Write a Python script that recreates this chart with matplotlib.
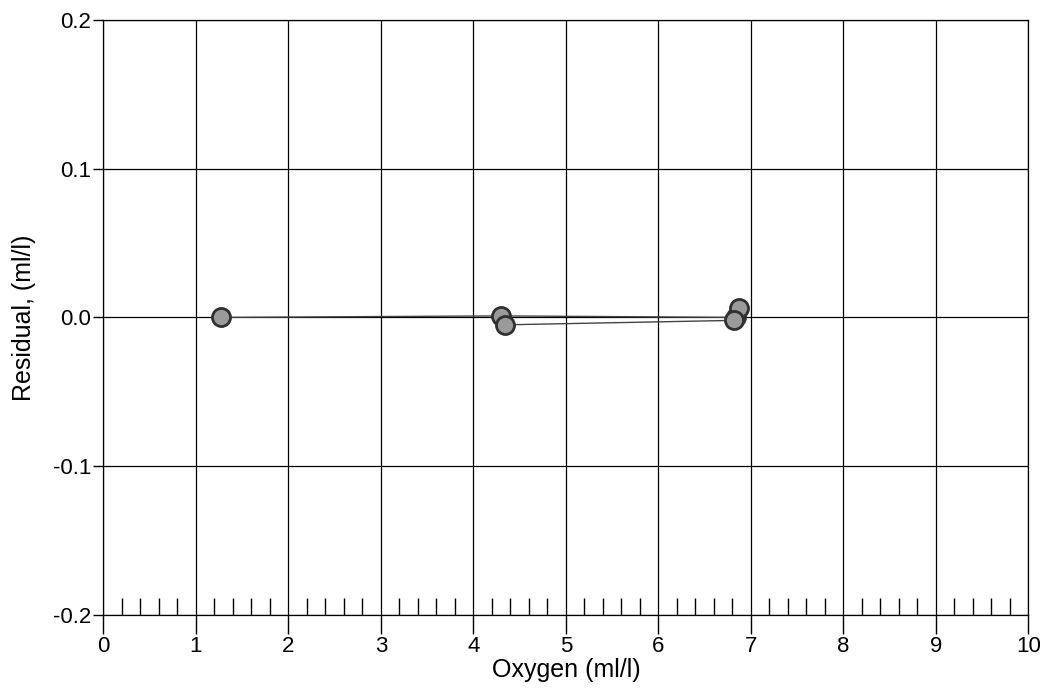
import matplotlib
matplotlib.use('Agg')
import matplotlib.pyplot as plt
from matplotlib.ticker import MultipleLocator, FormatStrFormatter

plt.rcParams['font.family'] = ['Liberation Sans', 'DejaVu Sans']

# Residuals vs oxygen
oxygen = [1.27, 4.30, 6.84, 6.87, 6.82, 4.34]
residual = [0.000, 0.001, 0.000, 0.006, -0.002, -0.005]

fig, ax = plt.subplots(figsize=(10.45, 6.9), dpi=100)
fig.subplots_adjust(left=0.099, right=0.984, top=0.971, bottom=0.109)

ax.plot(oxygen, residual, color='#444444', lw=1.0, zorder=3)
ax.plot(oxygen, residual, 'o', ms=13, mfc='#9a9a9a', mec='#303030', mew=2,
        ls='none', zorder=4)

ax.set_xlim(0, 10)
ax.set_ylim(-0.2, 0.2)
ax.xaxis.set_major_locator(MultipleLocator(1))
ax.xaxis.set_minor_locator(MultipleLocator(0.2))
ax.yaxis.set_major_locator(MultipleLocator(0.1))
ax.yaxis.set_major_formatter(FormatStrFormatter('%.1f'))
ax.grid(True, which='major', color='black', lw=0.9)
ax.tick_params(axis='x', which='major', direction='out', length=14, width=1,
               labelsize=16, pad=1)
ax.tick_params(axis='x', which='minor', direction='in', length=12, width=1, top=False)
ax.tick_params(axis='y', which='major', direction='out', length=7, width=1,
               labelsize=16, pad=2)
for s in ax.spines.values():
    s.set_linewidth(0.9)

ax.set_xlabel('Oxygen (ml/l)', fontsize=18, labelpad=1)
ax.set_ylabel('Residual, (ml/l)', fontsize=18, labelpad=12)

plt.savefig('out.png')
